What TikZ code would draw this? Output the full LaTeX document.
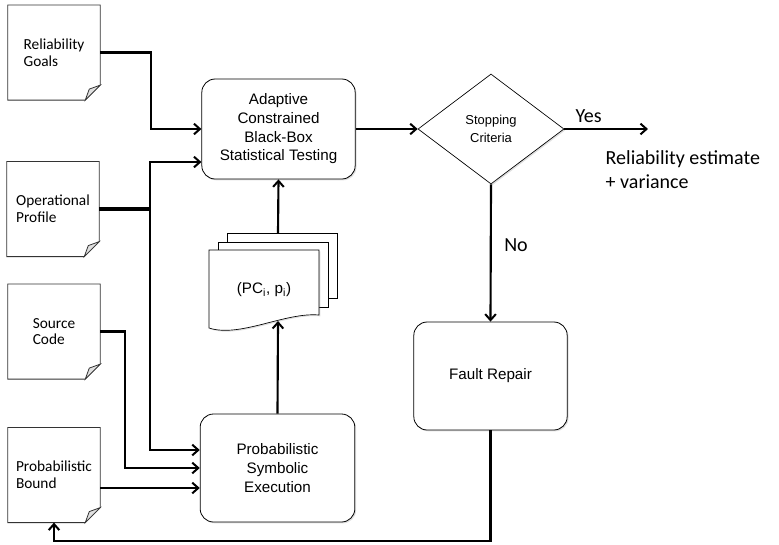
\documentclass[tikz,border=0pt]{standalone}
\usepackage{fontspec}
\setmainfont{Liberation Sans}
\newfontfamily\calfont{Carlito}
\usetikzlibrary{arrows.meta,calc,shapes.geometric,shadows}

\begin{document}
\begin{tikzpicture}[x=0.75pt, y=-0.75pt,
  flow/.style={line width=1.6pt, -{Straight Barb[length=4.5pt,width=8pt,line width=1.5pt]}},
  docsheet/.style={minimum width=69pt, minimum height=71pt, align=left, font=\calfont\fontsize{11.5}{12.5}\selectfont},
  roundbox/.style={draw, line width=0.6pt, rounded corners=10pt, fill=white, align=center,
    font=\fontsize{11.4}{14}\selectfont, drop shadow={opacity=0.25, shadow xshift=1pt, shadow yshift=-1pt}},
  sheetline/.style={draw=black!80, line width=0.6pt},
  callabel/.style={font=\calfont\fontsize{15}{18}\selectfont}]
\useasboundingbox (0,0) rectangle (779,544);

% input documents
\node[docsheet] (goals) at (54,52.5) {Reliability\\Goals};
\node[docsheet] (profile) at (53,209) {Operational\\Profile};
\node[docsheet] (source) at (54,331.5) {Source\\Code};
\node[docsheet] (bound) at (54,475) {Probabilistic\\Bound};
\foreach \sheet in {goals,profile,source,bound} {
  \draw[sheetline] (\sheet.north west) -- (\sheet.north east) -- ($(\sheet.south east)+(0,-15)$)
    -- ($(\sheet.south east)+(-15,0)$) -- (\sheet.south west) -- cycle;
  \draw[sheetline, fill=black!12] ($(\sheet.south east)+(0,-15)$) -- ($(\sheet.south east)+(-11,-11)$)
    -- ($(\sheet.south east)+(-15,0)$) -- cycle;
}

% process boxes
\node[roundbox, minimum width=115pt, minimum height=75pt] (adaptive) at (278.5,129)
  {Adaptive\\Constrained\\Black-Box\\Statistical Testing};
\node[roundbox, minimum width=116pt, minimum height=81pt] (pse) at (277.5,468)
  {Probabilistic\\Symbolic\\Execution};
\node[roundbox, minimum width=115pt, minimum height=81pt] (repair) at (490.5,376) {Fault Repair};
\node[diamond, draw, line width=0.5pt, fill=white, minimum width=109.5pt, minimum height=82.5pt,
  inner sep=0pt, align=center, font=\fontsize{9.7}{13}\selectfont,
  drop shadow={opacity=0.25, shadow xshift=1pt, shadow yshift=-1pt}] (crit) at (491,129) {Stopping\\Criteria};

% stack of path conditions
\draw[draw=black, line width=0.5pt, fill=white, drop shadow={opacity=0.25, shadow xshift=1pt, shadow yshift=-1pt}]
  (227,233) rectangle (337,298);
\draw[draw=black, line width=0.5pt, fill=white, drop shadow={opacity=0.25, shadow xshift=1pt, shadow yshift=-1pt}]
  (218,242) rectangle (328,307);
\draw[draw=black, line width=0.5pt, fill=white, drop shadow={opacity=0.25, shadow xshift=1pt, shadow yshift=-1pt}]
  (209,250) -- (319,250) -- (319,315) .. controls (285,312) and (240,338) .. (209,328) -- cycle;
\node[font=\fontsize{11.4}{14}\selectfont] (paths) at (264,290) {(PC\textsubscript{i}, p\textsubscript{i})};
\coordinate (stacktop) at (278,233);
\coordinate (stackbot) at (278,321);

% connectors
\draw[flow] (goals.east) -- ++(51,0) |- (adaptive.west);
\coordinate (pjoin) at (150,209);
\draw[line width=3pt] (profile.east) -- (pjoin);
\draw[flow] (pjoin) |- ($(adaptive.west)+(0,33)$);
\draw[flow] (pjoin) |- ($(pse.west)+(0,-18)$);
\draw[flow] (source.east) -- ++(25,0) |- (pse.west);
\draw[flow] ($(bound.east)+(0,13)$) -- ($(pse.west)+(0,20)$);
\draw[flow] (pse.north) -- (stackbot);
\draw[flow] (stacktop) -- (adaptive.south);
\draw[flow] (adaptive.east) -- (crit.west);
\coordinate (yesend) at (648,129);
\draw[flow] (crit.east) -- (yesend) node[pos=0.29, above=1pt, callabel] {Yes};
\node[anchor=west, align=left, callabel] (result) at (601,170) {Reliability estimate\\+ variance};
\draw[flow] (crit.south) -- (repair.north) node[pos=0.44, right=6pt, callabel] {No};
\draw[flow] (repair.south) -- ++(0,111) -| (bound.south);
\end{tikzpicture}
\end{document}
